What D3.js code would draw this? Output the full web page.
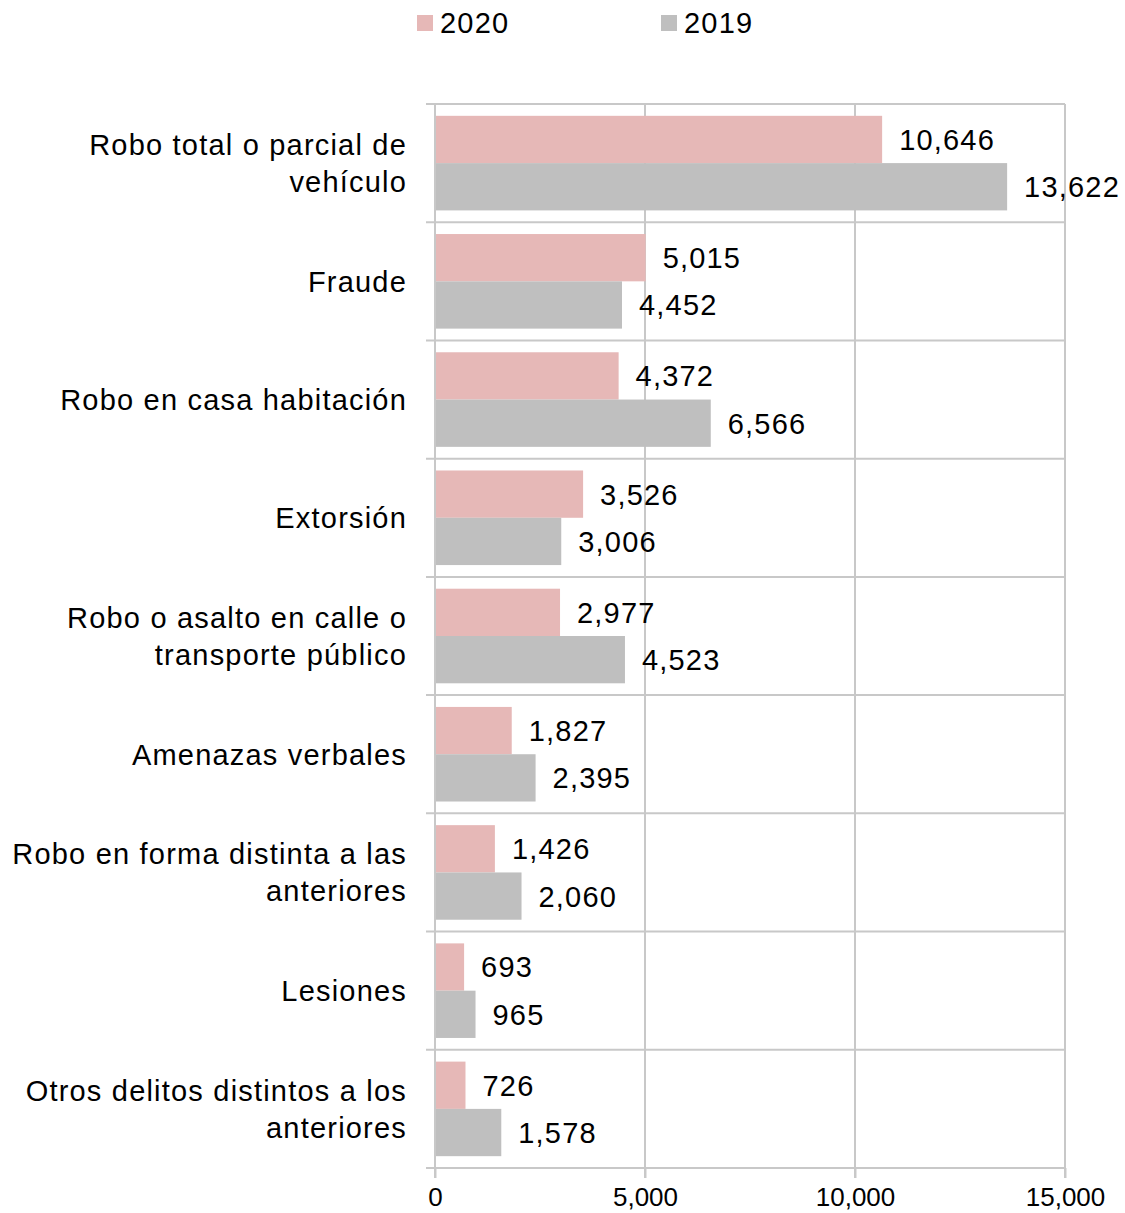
<!DOCTYPE html>
<html><head><meta charset="utf-8">
<script src="https://cdn.jsdelivr.net/npm/d3@7"></script>
<style>
body{margin:0;background:#fff;}
text{font-family:"Liberation Sans",Arial,sans-serif;fill:#000;letter-spacing:1.2px;}
.tick text{letter-spacing:0px;}
</style></head>
<body><svg id="c" width="1125" height="1213"></svg>
<script>
const categories = [
  ["Robo total o parcial de","vehículo"],
  ["Fraude"],
  ["Robo en casa habitación"],
  ["Extorsión"],
  ["Robo o asalto en calle o","transporte público"],
  ["Amenazas verbales"],
  ["Robo en forma distinta a las","anteriores"],
  ["Lesiones"],
  ["Otros delitos distintos a los","anteriores"]
];
const series = ["2020","2019"];
const values2020 = [10646,5015,4372,3526,2977,1827,1426,693,726];
const values2019 = [13622,4452,6566,3006,4523,2395,2060,965,1578];
const xTicks = [0,5000,10000,15000];
const colors = {"2020":"#E6B8B7","2019":"#BFBFBF"};
const grid = "#C8C8C8";

const svg = d3.select("#c");
const x0 = 435, x1 = 1065, yTop = 104, yBot = 1168;
const x = d3.scaleLinear().domain([0,15000]).range([x0,x1]);
const y = d3.scaleBand().domain(d3.range(categories.length)).range([yTop,yBot]).padding(0);
const ySub = d3.scaleBand().domain(series).range([0,y.bandwidth()]).paddingInner(0).paddingOuter(0.25);
const fmt = d3.format(",");

svg.selectAll("line.vg").data(xTicks.slice(1)).join("line")
  .attr("x1",d=>x(d)).attr("x2",d=>x(d)).attr("y1",yTop).attr("y2",yBot+10)
  .attr("stroke",grid).attr("stroke-width",2);
const bounds = d3.range(categories.length+1).map(i=> i<categories.length? y(i): yBot);
svg.selectAll("line.hg").data(bounds).join("line")
  .attr("x1",x0-9).attr("x2",x1).attr("y1",d=>d).attr("y2",d=>d)
  .attr("stroke",grid).attr("stroke-width",2);

const data = [];
categories.forEach((c,i)=>{
  data.push({i,s:"2020",v:values2020[i]});
  data.push({i,s:"2019",v:values2019[i]});
});
svg.selectAll("rect.bar").data(data).join("rect")
  .attr("x",x(0)).attr("y",d=>y(d.i)+ySub(d.s))
  .attr("width",d=>x(d.v)-x(0)).attr("height",ySub.bandwidth())
  .attr("fill",d=>colors[d.s]);

svg.append("line").attr("x1",x0).attr("x2",x0).attr("y1",yTop).attr("y2",yBot+10)
  .attr("stroke",grid).attr("stroke-width",2);

svg.selectAll("text.val").data(data).join("text")
  .attr("x",d=>x(d.v)+17).attr("y",d=>y(d.i)+ySub(d.s)+ySub.bandwidth()/2)
  .attr("dy","0.36em").attr("font-size",29).text(d=>fmt(d.v));

const ax = svg.append("g").attr("transform",`translate(0,${yBot})`)
  .call(d3.axisBottom(x).tickValues(xTicks).tickFormat(fmt).tickSize(10).tickPadding(10));
ax.select(".domain").remove();
ax.selectAll(".tick line").attr("stroke",grid).attr("stroke-width",2);
ax.selectAll(".tick text").attr("font-size",26).attr("fill","#000")
  .attr("font-family","Liberation Sans, Arial, sans-serif");

categories.forEach((lines,i)=>{
  const cy = y(i)+y.bandwidth()/2;
  const lh = 37;
  const t = svg.append("text").attr("text-anchor","end").attr("font-size",29);
  lines.forEach((ln,j)=>{
    t.append("tspan").attr("x",407)
      .attr("y",cy + (j-(lines.length-1)/2)*lh).attr("dy","0.36em").text(ln);
  });
});

const legX = [417,661];
series.forEach((s,k)=>{
  svg.append("rect").attr("x",legX[k]).attr("y",15).attr("width",16).attr("height",16).attr("fill",colors[s]);
  svg.append("text").attr("x",legX[k]+23).attr("y",23).attr("dy","0.36em").attr("font-size",29).text(s);
});
</script></body></html>
